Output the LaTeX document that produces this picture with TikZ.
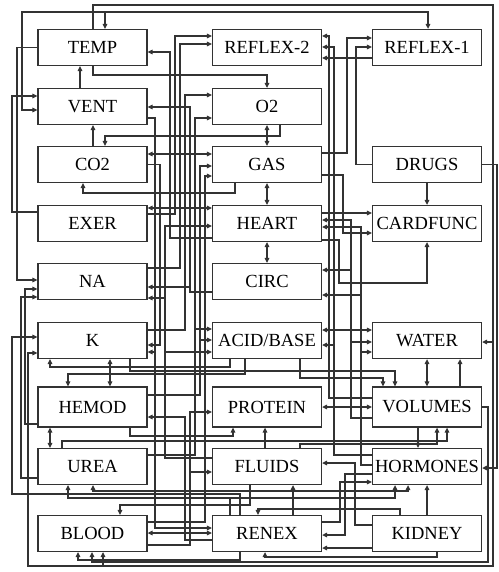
\documentclass[tikz,border=0pt]{standalone}
\usepackage{fontspec}
\setmainfont{Liberation Serif}
\usetikzlibrary{arrows.meta,backgrounds}
\begin{document}
\begin{tikzpicture}[x=1pt,y=-1pt,
 box/.style={draw=black!80,line width=1.3pt,minimum width=109pt,minimum height=36pt,inner sep=0pt,fill=white,font=\fontsize{18.5}{19}\selectfont},
 tall/.style={minimum height=40pt},
 cn/.style={draw=black!80,line width=1.1pt},
 >={Triangle[length=5pt,width=4.6pt]}]
\useasboundingbox (0,0) rectangle (498,572);
% column 1
\node[box] (temp)  at (92.5,47.5) {TEMP};
\node[box] (vent)  at (92.5,106.5) {VENT};
\node[box] (co2)   at (92.5,164.5) {CO2};
\node[box] (exer)  at (92.5,223.5) {EXER};
\node[box] (na)    at (92.5,281.5) {NA};
\node[box] (k)     at (92.5,340.5) {K};
\node[box,tall] (hemod) at (92.5,407) {HEMOD};
\node[box] (urea)  at (92.5,466.5) {UREA};
\node[box] (blood) at (92.5,533.5) {BLOOD};
% column 2
\node[box] (reflex2) at (267,47.5) {REFLEX-2};
\node[box] (o2)      at (267,106.5) {O2};
\node[box] (gas)     at (267,164.5) {GAS};
\node[box] (heart)   at (267,223.5) {HEART};
\node[box] (circ)    at (267,281.5) {CIRC};
\node[box] (acid)    at (267,340.5) {ACID/BASE};
\node[box,tall] (protein) at (267,407) {PROTEIN};
\node[box] (fluids)  at (267,466.5) {FLUIDS};
\node[box] (renex)   at (267,533.5) {RENEX};
% column 3
\node[box] (reflex1)  at (427,47.5) {REFLEX-1};
\node[box] (drugs)    at (427,164.5) {DRUGS};
\node[box] (cardfunc) at (427,223.5) {CARDFUNC};
\node[box] (water)    at (427,340.5) {WATER};
\node[box,tall] (volumes)  at (427,407) {VOLUMES};
\node[box] (hormones) at (427,466.5) {HORMONES};
\node[box] (kidney)   at (427,533.5) {KIDNEY};

\begin{pgfonlayer}{background}
% ---- outer frame and left side
\draw[cn,->] (temp.north -| 93,0) -- (93,5) -- (493,5) -- (493,566) -- (28,566) -- (28,353) -- (k.west |- 0,353);
\draw[cn,<->] (vent.west |- 0,110) -- (22,110) -- (22,12) -- (428,12) -- (reflex1.north -| 428,0);
\draw[cn,->] (105,12) -- (temp.north -| 105,0);
\draw[cn,->] (vent.north -| 80,0) -- (temp.south -| 80,0);
\draw[cn,->] (temp.south -| 93,0) -- (93,75) -- (o2.north |- 0,75) -- (o2.north);
\draw[cn,->] (temp.west) -- (17,47.5) -- (17,280) -- (na.west |- 0,280);
\draw[cn,->] (exer.west |- 0,212) -- (12,212) -- (12,96) -- (vent.west |- 0,96);
\draw[cn,->] (urea.west |- 0,478) -- (21,478) -- (21,297) -- (na.west |- 0,297);
\draw[cn,->] (hemod.west |- 0,424) -- (25,424) -- (25,289) -- (na.west |- 0,289);
\draw[cn,->] (renex.north -| 240,0) -- (240,494) -- (12,494) -- (12,337) -- (k.west |- 0,337);
% ---- channel A
\draw[cn,->] (heart.west |- 0,238) -- (170,238) -- (170,52) -- (temp.east |- 0,52);
\draw[cn,->] (exer.east |- 0,214) -- (175,214) -- (175,36) -- (reflex2.west |- 0,36);
\draw[cn,->] (na.east |- 0,268) -- (180,268) -- (180,44) -- (reflex2.west |- 0,44);
\draw[cn,->] (co2.east) -- (160,164.5) -- (160,345) -- (k.east |- 0,345);
\draw[cn,<->] (co2.east |- 0,154) -- (gas.west |- 0,154);
\draw[cn,->] (circ.west |- 0,292) -- (190,292) -- (190,107) -- (vent.east |- 0,107);
\draw[cn,->] (vent.east |- 0,118) -- (155,118) -- (155,528) -- (renex.west |- 0,528);
\draw[cn,->] (co2.north -| 93,0) -- (vent.south -| 93,0);
\draw[cn,->] (o2.south -| 280,0) -- (280,136) -- (105,136) -- (co2.north -| 105,0);
\draw[cn,<->] (o2.south) -- (gas.north);
\draw[cn,<->] (gas.south) -- (heart.north);
\draw[cn,<->] (heart.south) -- (circ.north);
\draw[cn,->] (gas.south -| 235,0) -- (235,193) -- (83,193) -- (co2.south -| 83,0);
\draw[cn,<->] (exer.east |- 0,208) -- (heart.west |- 0,208);
\draw[cn,->] (k.east |- 0,330) -- (185,330) -- (185,95) -- (o2.west |- 0,95);
\draw[cn,->] (urea.east |- 0,455) -- (195,455) -- (195,118) -- (o2.west |- 0,118);
\draw[cn,->] (hemod.east |- 0,395) -- (200,395) -- (200,166) -- (gas.west |- 0,166);
\draw[cn,->] (blood.east |- 0,522) -- (205,522) -- (205,176) -- (gas.west |- 0,176);
\draw[cn,->] (fluids.west |- 0,458) -- (165,458) -- (165,226) -- (heart.west |- 0,226);
\draw[cn,->] (190,287) -- (na.east |- 0,287);
\draw[cn,->] (165,298) -- (na.east |- 0,298);
\draw[cn,->] (155,352) -- (k.east |- 0,352);
\draw[cn,->] (195,329) -- (acid.west |- 0,329);
\draw[cn,->] (200,340) -- (acid.west |- 0,340);
\draw[cn,->] (165,352) -- (acid.west |- 0,352);
\draw[cn,->] (renex.west |- 0,540) -- (185,540) -- (185,417) -- (hemod.east |- 0,417);
\draw[cn,->] (blood.east |- 0,545) -- (190,545) -- (190,472) -- (fluids.west |- 0,472);
\draw[cn,->] (190,472) -- (190,412) -- (protein.west |- 0,412);
\draw[cn,<->] (blood.east |- 0,533) -- (renex.west |- 0,533);
% ---- channel B
\draw[cn,->] (reflex1.west |- 0,58) -- (reflex2.east |- 0,58);
\draw[cn,->] (gas.east |- 0,153) -- (347,153) -- (347,38) -- (reflex1.west |- 0,38);
\draw[cn,->] (drugs.west) -- (356,164.5) -- (356,47) -- (reflex1.west |- 0,47);
\draw[cn,->] (gas.east |- 0,175) -- (343,175) -- (343,233) -- (cardfunc.west |- 0,233);
\draw[cn,->] (volumes.west |- 0,398) -- (329,398) -- (329,36) -- (reflex2.east |- 0,36);
\draw[cn,->] (hormones.west |- 0,455) -- (334,455) -- (334,47) -- (reflex2.east |- 0,47);
\draw[cn,->] (heart.east |- 0,213) -- (cardfunc.west |- 0,213);
\draw[cn,->] (heart.east |- 0,240) -- (339,240) -- (339,283) -- (cardfunc.south |- 0,283) -- (cardfunc.south);
\draw[cn,->] (volumes.west |- 0,418) -- (351,418) -- (351,220) -- (heart.east |- 0,220);
\draw[cn,->] (hormones.west |- 0,465) -- (361,465) -- (361,227) -- (heart.east |- 0,227);
\draw[cn,->] (351,270) -- (circ.east |- 0,270);
\draw[cn,->] (361,295) -- (circ.east |- 0,295);
\draw[cn,<->] (acid.east |- 0,330) -- (water.west |- 0,330);
\draw[cn,->] (334,345) -- (acid.east |- 0,345);
\draw[cn,->] (351,342) -- (water.west |- 0,342);
\draw[cn,->] (361,352) -- (water.west |- 0,352);
\draw[cn,<->] (protein.east) -- (volumes.west);
\draw[cn,->] (hormones.west |- 0,474) -- (345,474) -- (345,535) -- (renex.east |- 0,535);
\draw[cn,->] (renex.east |- 0,522) -- (340,522) -- (340,482) -- (hormones.west |- 0,482);
\draw[cn,->] (kidney.west |- 0,525) -- (355,525) -- (355,463) -- (fluids.east |- 0,463);
\draw[cn,->] (kidney.west |- 0,548) -- (renex.east |- 0,548);
% ---- right side
\draw[cn,->] (drugs.east) -- (497,164.5) -- (497,468) -- (hormones.east |- 0,468);
\draw[cn,->] (volumes.east) -- (488,407) -- (488,562) -- (92,562) -- (blood.south -| 92,0);
\draw[cn,->] (493,342) -- (water.east |- 0,342);
\draw[cn,->] (drugs.south) -- (cardfunc.north);
% ---- bottom
\draw[cn,->] (kidney.north -| 427,0) -- (hormones.south -| 427,0);
\draw[cn,->] (kidney.south -| 437,0) -- (437,557) -- (265,557) -- (renex.south -| 265,0);
\draw[cn,->] (renex.south -| 240,0) -- (240,560) -- (78,560) -- (blood.south -| 78,0);
\draw[cn,->] (103,566) -- (blood.south -| 103,0);
% ---- row gap 358-387
\draw[cn,<->] (k.south -| 110,0) -- (hemod.north -| 110,0);
\draw[cn,->] (acid.south -| 230,0) -- (230,367) -- (50,367) -- (k.south -| 50,0);
\draw[cn,->] (acid.south -| 245,0) -- (245,374) -- (68,374) -- (hemod.north -| 68,0);
\draw[cn,<->] (water.south) -- (volumes.north);
\draw[cn,->] (volumes.north -| 460,0) -- (water.south -| 460,0);
\draw[cn,->] (acid.south -| 300,0) -- (300,378) -- (383,378) -- (volumes.north -| 383,0);
\draw[cn,->] (k.south -| 130,0) -- (130,371) -- (395,371) -- (volumes.north -| 395,0);
% ---- row gap 427-448
\draw[cn,<->] (hemod.south -| 50,0) -- (urea.north -| 50,0);
\draw[cn,->] (urea.north -| 62,0) -- (62,441) -- (447,441) -- (volumes.south -| 447,0);
\draw[cn,->] (hemod.south -| 130,0) -- (130,436) -- (233,436) -- (protein.south -| 233,0);
\draw[cn,->] (volumes.south -| 418,0) -- (hormones.north -| 418,0);
\draw[cn,->] (fluids.north -| 300,0) -- (300,444) -- (437,444) -- (volumes.south -| 437,0);
\draw[cn,->] (fluids.north -| 265,0) -- (protein.south -| 265,0);
% ---- row gap 485-515
\draw[cn,->] (renex.north -| 230,0) -- (230,498) -- (68,498) -- (urea.south -| 68,0);
\draw[cn,->] (230,498) -- (395,498) -- (hormones.south -| 395,0);
\draw[cn,->] (renex.north -| 293,0) -- (fluids.south -| 293,0);
\draw[cn,<->] (urea.south -| 93,0) -- (93,491) -- (408,491) -- (hormones.south -| 408,0);
\draw[cn,->] (fluids.south -| 250,0) -- (250,505) -- (120,505) -- (blood.north -| 120,0);
\draw[cn,->] (kidney.north -| 400,0) -- (400,509) -- (258,509) -- (renex.north -| 258,0);
\end{pgfonlayer}
\end{tikzpicture}
\end{document}
